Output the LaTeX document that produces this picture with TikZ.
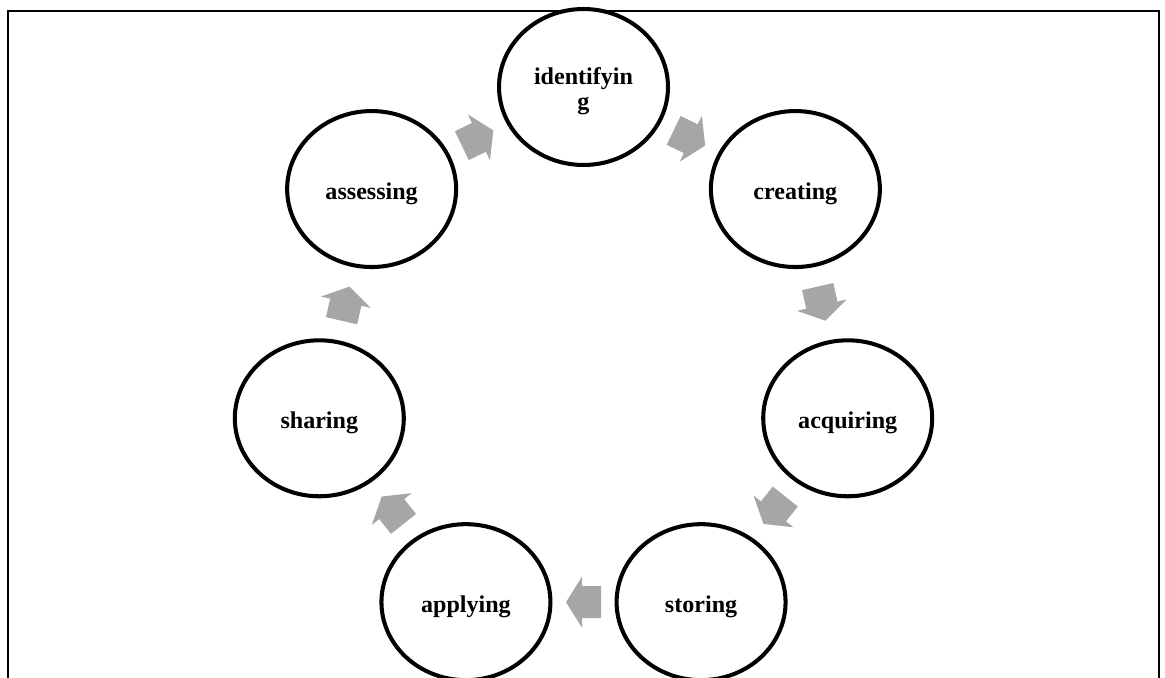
\documentclass[tikz,border=0pt]{standalone}
\usepackage{fontspec}
\setmainfont{Liberation Serif}
\usetikzlibrary{calc,shapes.geometric}
\definecolor{cyclegray}{RGB}{166,166,166}
% label text, lowered a little inside its ellipse
\newcommand\steptext[1]{\raisebox{-0.1cm}[\height][\depth]{\begin{tabular}{@{}c@{}}#1\end{tabular}}}
\begin{document}
\begin{tikzpicture}[x=0.02cm,y=0.02cm,
  stage/.style={ellipse, draw=black, line width=2.3pt, fill=white,
    minimum width=3.38cm, minimum height=3.12cm, inner sep=0pt,
    font=\fontsize{13.7}{14.5}\selectfont\bfseries},
  flowarrow/.style={fill=cyclegray}]
\clip (0,0) rectangle (1165,677);
% open frame
\draw[line width=1.1pt] (8,-10) -- (8,666) -- (1159,666) -- (1159,-10);
% the cycle's centre
\coordinate (hub) at (583.5,319);
\node[stage] (id) at ($(hub)+(90:271)$)       {\steptext{identifyin\\g}};
\node[stage] (cr) at ($(hub)+(38.571:271)$)   {\steptext{creating}};
\node[stage] (ac) at ($(hub)+(-12.857:271)$)  {\steptext{acquiring}};
\node[stage] (st) at ($(hub)+(-64.286:271)$)  {\steptext{storing}};
\node[stage] (ap) at ($(hub)+(-115.714:271)$) {\steptext{applying}};
\node[stage] (sh) at ($(hub)+(-167.143:271)$) {\steptext{sharing}};
\node[stage] (as) at ($(hub)+(141.429:271)$)  {\steptext{assessing}};
% block arrows between consecutive stages
\foreach \a/\b [count=\k from 0] in {id/cr,cr/ac,ac/st,st/ap,ap/sh,sh/as,as/id}
  \fill[flowarrow, shift={($(\a)!0.5!(\b)$)}, rotate={-25.714-51.4286*\k}]
    (-17.5,-16) -- (1.5,-16) -- (1.5,-25.5) -- (17.5,0) -- (1.5,25.5)
    -- (1.5,16) -- (-17.5,16) -- cycle;
\end{tikzpicture}
\end{document}
